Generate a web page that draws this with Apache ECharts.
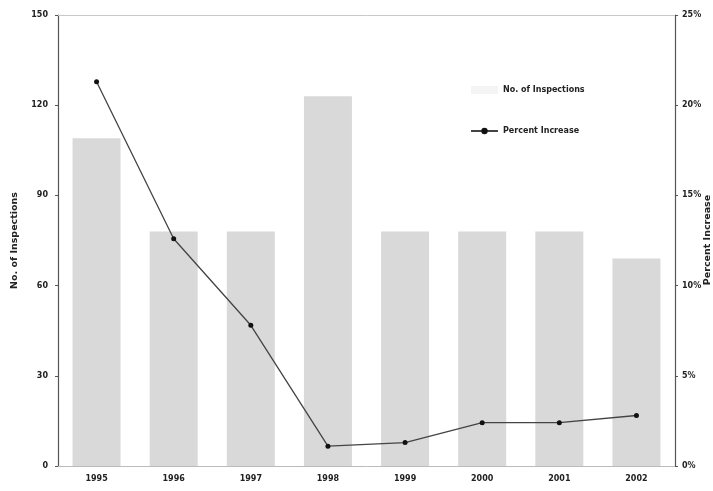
<!DOCTYPE html>
<html>
<head>
<meta charset="utf-8">
<script src="https://cdn.jsdelivr.net/npm/echarts@6/dist/echarts.min.js"></script>
<style>
  html, body { margin: 0; padding: 0; background: #ffffff; }
  #chart { width: 713px; height: 491px; }
</style>
</head>
<body>
<div id="chart"></div>
<script>
// Inspection counts and year-on-year percentage increase
const years = ['1995', '1996', '1997', '1998', '1999', '2000', '2001', '2002'];
const inspections = [109, 78, 78, 123, 78, 78, 78, 69];
const percentIncrease = [21.3, 12.6, 7.8, 1.1, 1.3, 2.4, 2.4, 2.8];
const leftTicks = [0, 30, 60, 90, 120, 150];
const rightTicks = [0, 5, 10, 15, 20, 25];

const chart = echarts.init(document.getElementById('chart'));
const font = { fontFamily: 'DejaVu Sans', fontSize: 8, fontWeight: 'bold', color: '#222' };
const titleFont = { fontFamily: 'DejaVu Sans', fontSize: 9.5, fontWeight: 'bold', color: '#222' };

chart.setOption({
  animation: false,
  backgroundColor: '#ffffff',
  grid: { left: 58, right: 38, top: 15, bottom: 25, containLabel: false, outerBoundsMode: 'none' },
  legend: {
    orient: 'vertical',
    left: 465,
    top: 81,
    itemGap: 33,
    itemWidth: 27,
    itemHeight: 8,
    textStyle: { fontFamily: 'DejaVu Sans', fontSize: 8, fontWeight: 'bold', color: '#222' },
    data: [
      { name: 'No. of Inspections', icon: 'rect', itemStyle: { color: '#f4f4f4' } },
      { name: 'Percent Increase' }
    ]
  },
  // Right-hand axis title, set against the page edge
  graphic: [{
    type: 'text',
    x: 708,
    y: 240,
    rotation: Math.PI / 2,
    style: {
      text: 'Percent Increase',
      font: 'bold 9.5px "DejaVu Sans"',
      fill: '#222',
      align: 'center',
      verticalAlign: 'middle'
    }
  }],
  xAxis: {
    type: 'category',
    data: years,
    axisLine: { show: true, lineStyle: { color: '#bbbbbb', width: 1 } },
    axisTick: { show: false },
    axisLabel: Object.assign({ margin: 9 }, font)
  },
  yAxis: [
    {
      type: 'value',
      min: leftTicks[0],
      max: leftTicks[leftTicks.length - 1],
      interval: 30,
      name: 'No. of Inspections',
      nameLocation: 'middle',
      nameGap: 38,
      nameTextStyle: titleFont,
      axisLine: { show: true, lineStyle: { color: '#555', width: 1.2 } },
      axisTick: { show: true, length: 3, lineStyle: { color: '#555' } },
      axisLabel: Object.assign({ margin: 10 }, font),
      splitLine: { show: false }
    },
    {
      type: 'value',
      min: rightTicks[0],
      max: rightTicks[rightTicks.length - 1],
      interval: 5,
      axisLine: { show: true, lineStyle: { color: '#555', width: 1.2 } },
      axisTick: { show: true, length: 3, lineStyle: { color: '#555' } },
      axisLabel: Object.assign({ margin: 7, formatter: '{value}%' }, font),
      splitLine: { show: false }
    }
  ],
  series: [
    {
      name: 'No. of Inspections',
      type: 'bar',
      yAxisIndex: 0,
      data: inspections,
      barWidth: 48,
      itemStyle: { color: '#d9d9d9' },
      markLine: {
        silent: true,
        symbol: 'none',
        label: { show: false },
        lineStyle: { color: '#c8c8c8', type: 'solid', width: 1 },
        data: [{ yAxis: 150 }]
      }
    },
    {
      name: 'Percent Increase',
      type: 'line',
      yAxisIndex: 1,
      data: percentIncrease,
      symbol: 'circle',
      symbolSize: 5,
      lineStyle: { color: '#444', width: 1.3 },
      itemStyle: { color: '#111' }
    }
  ]
});
</script>
</body>
</html>
